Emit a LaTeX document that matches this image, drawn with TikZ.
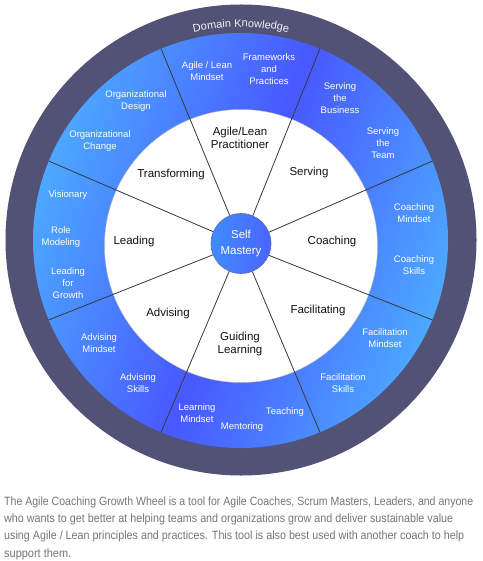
\documentclass[tikz,border=0pt]{standalone}
\usepackage{fontspec}
\setmainfont{Liberation Sans}
\usetikzlibrary{decorations.text}
\definecolor{ringdark}{RGB}{81,82,118}
\definecolor{bluelight}{RGB}{76,168,255}
\definecolor{bluedark}{RGB}{72,88,255}
\definecolor{captiongray}{RGB}{118,118,118}
\definecolor{spokegray}{RGB}{55,55,62}
\definecolor{innertext}{RGB}{17,17,17}
\definecolor{smlight}{RGB}{64,140,255}
\definecolor{smdark}{RGB}{74,100,255}
\definecolor{smedge}{RGB}{90,110,170}
\newlength{\capwd}
\newcommand{\fitline}[2]{\settowidth{\capwd}{#2}\pgfmathsetmacro{\capsx}{#1/\capwd}\scalebox{\capsx}[1]{#2}}
\begin{document}
\begin{tikzpicture}[x=1pt,y=1pt,
  innerlbl/.style={font=\fontsize{11.5}{13.7}\selectfont, align=center, text=innertext, inner sep=0},
  outerlbl/.style={font=\fontsize{9.5}{11.7}\selectfont, align=center, text=white, inner sep=0},
  caplbl/.style={font=\fontsize{12}{14}\selectfont, text=captiongray, anchor=base west, inner sep=0},
  spoke/.style={draw=spokegray, line width=0.8pt}]
\useasboundingbox (0,0) rectangle (482,-561);
\fill[white] (0,0) rectangle (482,-561);
\coordinate (C) at (241,-240);
\coordinate (B) at (240.5,-240.5);
\coordinate (W) at (241,-246);
\coordinate (S) at (241,-243.5);
% rings
\fill[ringdark] (C) circle (235.5);
\shade[top color=bluelight, bottom color=bluelight, middle color=bluedark, shading angle=70] (B) circle (207.5);
\filldraw[fill=white, draw=gray!55, line width=0.4pt] (W) circle (136.5);
% centre
\node[circle, minimum size=60, inner sep=0, left color=smlight, right color=smdark, draw=smedge, line width=0.6pt,
  font=\fontsize{11.5}{15.5}\selectfont, text=white, align=center] (sm) at (S) {Self\\Mastery};
% spokes
\foreach \a in {22.5,67.5,112.5,157.5,202.5,247.5,292.5,337.5}
  \draw[spoke] (sm.\a) -- ([shift={(\a:207.5)}]B);
% domain knowledge
\path[decorate, decoration={text along path, text align=center,
  text={|\fontsize{11}{13}\selectfont\color{white!92!ringdark}|Domain Knowledge}}]
  ([shift={(128:213)}]C) arc[start angle=128, end angle=52, radius=213];
% inner labels
\node[innerlbl] (alp) at (240,-138) {Agile/Lean\\Practitioner};
\node[innerlbl] (tra) at (171,-175) {Transforming};
\node[innerlbl] (ser) at (309,-173) {Serving};
\node[innerlbl] (lea) at (134,-242) {Leading};
\node[innerlbl] (coa) at (332,-242) {Coaching};
\node[innerlbl] (adv) at (168,-314) {Advising};
\node[innerlbl] (fac) at (318,-311) {Facilitating};
\node[innerlbl] (gui) at (240,-344) {Guiding\\Learning};
% outer labels
\node[outerlbl] (o1) at (207,-71) {Agile / Lean\\Mindset};
\node[outerlbl] (o2) at (269,-69) {Frameworks\\and\\Practices};
\node[outerlbl] (o3) at (136,-101) {Organizational\\Design};
\node[outerlbl] (o4) at (100,-141) {Organizational\\Change};
\node[outerlbl] (o5) at (340,-98) {Serving\\the\\Business};
\node[outerlbl] (o6) at (383,-143) {Serving\\the\\Team};
\node[outerlbl] (o7) at (68,-195) {Visionary};
\node[outerlbl] (o8) at (414,-213) {Coaching\\Mindset};
\node[outerlbl] (o9) at (61,-237) {Role\\Modeling};
\node[outerlbl] (o10) at (68,-283) {Leading\\for\\Growth};
\node[outerlbl] (o11) at (414,-265) {Coaching\\Skills};
\node[outerlbl] (o12) at (385,-338) {Facilitation\\Mindset};
\node[outerlbl] (o13) at (99,-343) {Advising\\Mindset};
\node[outerlbl] (o14) at (138,-383) {Advising\\Skills};
\node[outerlbl] (o15) at (343,-383) {Facilitation\\Skills};
\node[outerlbl] (o16) at (197,-413) {Learning\\Mindset};
\node[outerlbl] (o17) at (285,-412) {Teaching};
\node[outerlbl] (o18) at (242,-427) {Mentoring};
% caption
\node[caplbl] (c1) at (4,-505.5) {\fitline{469}{The Agile Coaching Growth Wheel is a tool for Agile Coaches, Scrum Masters, Leaders, and anyone}};
\node[caplbl] (c2) at (4,-522.7) {\fitline{449}{who wants to get better at helping teams and organizations grow and deliver sustainable value}};
\node[caplbl] (c3) at (4,-539.9) {\fitline{460}{using Agile / Lean principles and practices. This tool is also best used with another coach to help}};
\node[caplbl] (c4) at (4,-557) {\fitline{67}{support them.}};
\end{tikzpicture}
\end{document}
